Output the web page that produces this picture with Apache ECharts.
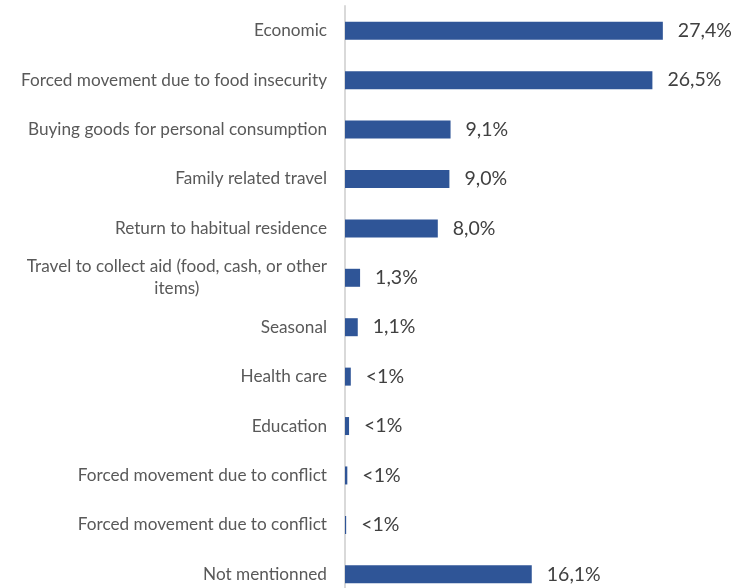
<!DOCTYPE html>
<html><head><meta charset="utf-8">
<script src="https://cdn.jsdelivr.net/npm/echarts@6/dist/echarts.min.js"></script>
<style>html,body{margin:0;padding:0;background:#fff}#c{width:733px;height:588px}</style>
</head><body><div id="c"></div>
<script>
const categories = [
  "Economic",
  "Forced movement due to food insecurity",
  "Buying goods for personal consumption",
  "Family related travel",
  "Return to habitual residence",
  "Travel to collect aid (food, cash, or other\nitems)",
  "Seasonal",
  "Health care",
  "Education",
  "Forced movement due to conflict",
  "Forced movement due to conflict",
  "Not mentionned"
];
const values = [27.4, 26.5, 9.1, 9.0, 8.0, 1.3, 1.1, 0.5, 0.35, 0.2, 0.1, 16.1];
const valueLabels = ["27,4%", "26,5%", "9,1%", "9,0%", "8,0%", "1,3%", "1,1%", "<1%", "<1%", "<1%", "<1%", "16,1%"];

const FONT = "Lato";
const catSize = 17.2;
const ctx = document.createElement('canvas').getContext('2d');
ctx.font = catSize + 'px ' + FONT;
const line1W = ctx.measureText("Travel to collect aid (food, cash, or other").width;

const chart = echarts.init(document.getElementById('c'), null, {renderer: 'canvas'});
chart.setOption({
  animation: false,
  grid: {left: 345, top: 6, height: 593, width: 348, containLabel: false, outerBoundsMode: 'none'},
  xAxis: {type: 'value', min: 0, max: 30, show: false},
  yAxis: {
    type: 'category', data: categories, inverse: true,
    axisLine: {show: true, lineStyle: {color: '#D9D9D9', width: 2}},
    axisTick: {show: false},
    axisLabel: {
      margin: 18, color: '#595959', fontFamily: FONT, fontSize: catSize, lineHeight: 22,
      formatter: function (v) {
        const parts = v.split('\n');
        if (parts.length === 1) return v;
        return '{a|' + parts[0] + '}\n{b|' + parts[1] + '}';
      },
      rich: {
        a: {color: '#595959', fontFamily: FONT, fontSize: catSize, lineHeight: 22},
        b: {color: '#595959', fontFamily: FONT, fontSize: catSize, lineHeight: 22, align: 'center', width: line1W}
      }
    }
  },
  series: [{
    type: 'bar', data: values, barWidth: 18,
    itemStyle: {color: '#2F5597'},
    label: {
      show: true, position: 'right', distance: 15,
      color: '#404040', fontFamily: FONT, fontSize: 19.5,
      formatter: function (p) { return valueLabels[p.dataIndex]; }
    }
  }]
});
</script></body></html>
